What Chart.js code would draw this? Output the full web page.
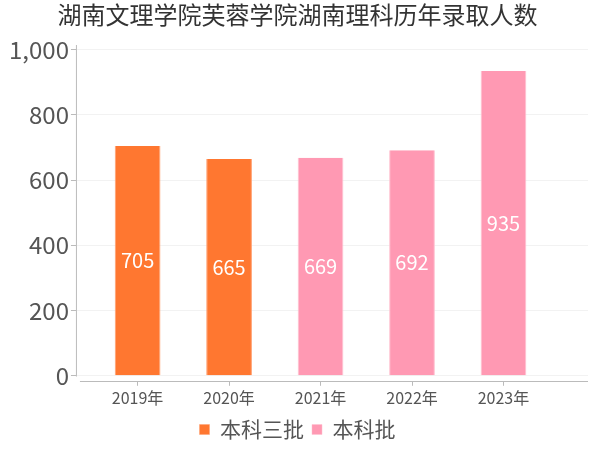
<!DOCTYPE html>
<html><head><meta charset="utf-8">
<script src="https://cdn.jsdelivr.net/npm/chart.js@4/dist/chart.umd.min.js"></script>
<style>html,body{margin:0;padding:0;background:#fff}#wrap{width:600px;height:450px}</style>
</head><body><div id="wrap"><canvas id="c" width="600" height="450"></canvas></div>
<script>
const title = '湖南文理学院芙蓉学院湖南理科历年录取人数';
const categories = ['2019年', '2020年', '2021年', '2022年', '2023年'];
const seriesNames = ['本科三批', '本科批'];
const batch3 = [705, 665, null, null, null];
const batchMain = [null, null, 669, 692, 935];
const yTicks = [0, 200, 400, 600, 800, 1000];

const FONT = '"Noto Sans CJK SC", "Noto Sans", sans-serif';
const AXIS = '#bbb';

// bars placed on an index axis (category i -> x = i)
const toPoints = arr => arr.map((v, i) => ({ x: i, y: v }));

const labelPlugin = {
  id: 'barLabels',
  afterDatasetsDraw(chart) {
    const ctx = chart.ctx;
    ctx.save();
    ctx.fillStyle = '#fff';
    ctx.font = '20px ' + FONT;
    ctx.textAlign = 'center';
    ctx.textBaseline = 'middle';
    chart.data.datasets.forEach((ds, i) => {
      const meta = chart.getDatasetMeta(i);
      meta.data.forEach((bar, j) => {
        const v = ds.data[j].y;
        if (v == null) return;
        ctx.fillText(String(v), bar.x, (bar.y + bar.base) / 2);
      });
    });
    ctx.restore();
  }
};

const axisLines = {
  id: 'axisLines',
  afterDatasetsDraw(chart) {
    const { ctx, chartArea: a, scales: { y } } = chart;
    ctx.save();
    ctx.strokeStyle = AXIS;
    ctx.lineWidth = 1;
    const y0 = Math.round(y.getPixelForValue(0)) + 0.5;
    const yTop = Math.round(y.getPixelForValue(1000)) - 5;
    ctx.beginPath();
    ctx.moveTo(a.left + 0.5, yTop);
    ctx.lineTo(a.left + 0.5, y0);
    ctx.moveTo(a.left + 4, Math.round(a.bottom) + 0.5);
    ctx.lineTo(a.right, Math.round(a.bottom) + 0.5);
    ctx.stroke();
    ctx.restore();
  }
};

new Chart(document.getElementById('c'), {
  type: 'bar',
  data: {
    labels: categories,
    datasets: [
      { label: seriesNames[0], data: toPoints(batch3), backgroundColor: '#FF7730', borderColor: '#FFA070', borderWidth: {left:1,right:1,top:0,bottom:0}, barPercentage: 1, categoryPercentage: 0.5 },
      { label: seriesNames[1], data: toPoints(batchMain), backgroundColor: '#FF99B3', borderColor: '#FFC0D0', borderWidth: {left:1,right:1,top:0,bottom:0}, barPercentage: 1, categoryPercentage: 0.5 }
    ]
  },
  options: {
    responsive: false,
    animation: false,
    layout: { padding: { left: 7, right: 12, top: 0, bottom: 0 } },
    plugins: {
      title: { display: true, text: title, color: '#333', font: { family: FONT, size: 24, weight: 'normal' }, padding: { top: 0, bottom: 21 } },
      legend: {
        position: 'bottom',
        labels: { color: '#555', font: { family: FONT, size: 21 }, boxWidth: 10, boxHeight: 10, padding: 8 }
      },
      tooltip: { enabled: false }
    },
    scales: {
      x: {
        type: 'linear',
        stacked: true,
        offset: false,
        min: -0.674, max: 4.924,
        afterBuildTicks(axis) { axis.ticks = categories.map((c, i) => ({ value: i })); },
        grid: { drawOnChartArea: false, offset: false, color: AXIS, tickLength: 5 },
        border: { display: false },
        ticks: { color: '#555', font: { family: FONT, size: 16 }, padding: 3, maxRotation: 0, autoSkip: false,
          callback: v => categories[v] }
      },
      y: {
        stacked: true,
        min: -15.6, max: 1000,
        afterBuildTicks(axis) { axis.ticks = yTicks.map(v => ({ value: v })); },
        grid: { color: '#f2f2f2', tickLength: 5, tickColor: AXIS },
        border: { display: false },
        ticks: { color: '#555', font: { family: FONT, size: 24 }, padding: 2,
          callback: v => v.toLocaleString('en-US') }
      }
    }
  },
  plugins: [labelPlugin, axisLines]
});
</script></body></html>
